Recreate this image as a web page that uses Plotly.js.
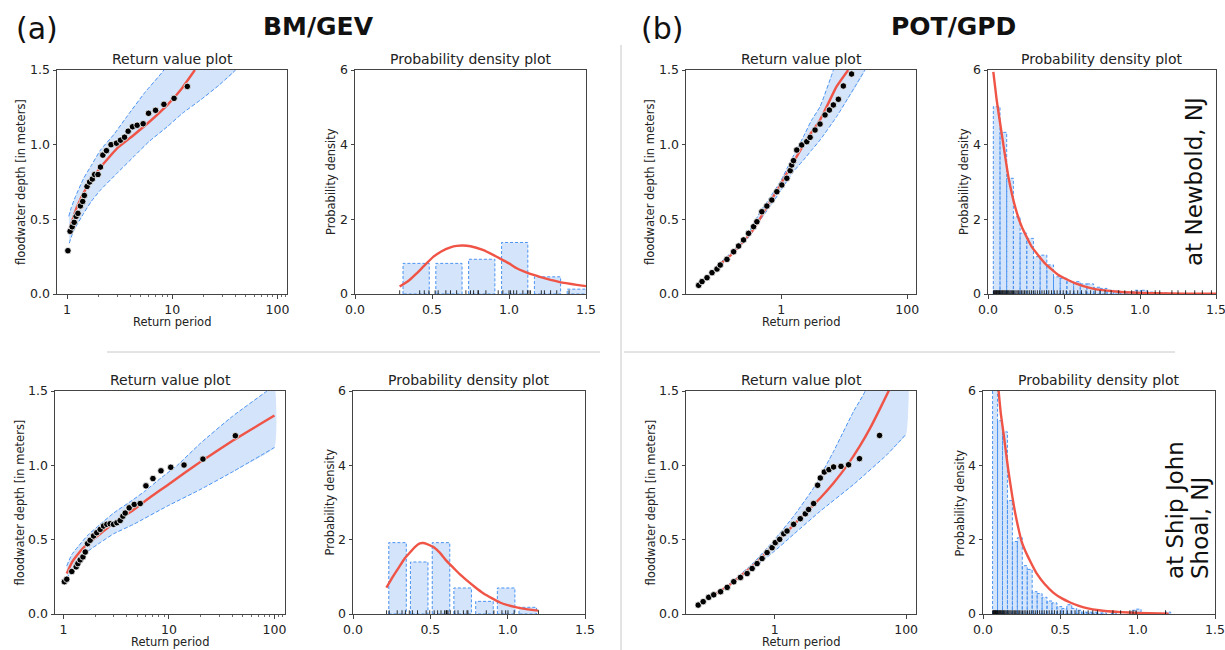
<!DOCTYPE html>
<html><head><meta charset="utf-8">
<script src="https://cdn.plot.ly/plotly-3.0.1.min.js"></script>
<style>html,body{margin:0;padding:0;background:#fff}#chart{width:1225px;height:650px}</style>
</head><body><div id="chart"></div>
<script>
// ---------- (a) BM/GEV at Newbold ----------
const nbGevPeriod = [1.02,1.07,1.12,1.17,1.22,1.27,1.34,1.41,1.46,1.55,1.64,1.74,1.83,1.97,2.08,2.19,2.37,2.62,2.95,3.22,3.52,3.81,4.19,4.64,5.29,5.95,6.94,8.33,10.4,13.9];
const nbGevDepth  = [0.29,0.42,0.45,0.48,0.52,0.54,0.59,0.62,0.66,0.72,0.75,0.77,0.80,0.80,0.85,0.93,0.96,1.00,1.01,1.03,1.05,1.09,1.12,1.13,1.14,1.21,1.23,1.27,1.31,1.39];
const nbGevFitPeriod = [1.05,1.245,1.55,2.08,2.99,4.31,6.22,8.96,12.0,16.4];
const nbGevFitDepth  = [0.429,0.585,0.719,0.848,0.975,1.065,1.16,1.265,1.366,1.50];
const nbGevUpPeriod = [1.04,1.1,1.2,1.44,1.7,2.08,2.8,3.72,5.5,8.33,17,40];
const nbGevUpDepth  = [0.52,0.58,0.65,0.775,0.86,0.964,1.07,1.19,1.35,1.50,1.90,2.30];
const nbGevLoPeriod = [1.05,1.15,1.44,1.7,2.08,3.0,4.31,6.0,8.96,12.5,18.6,28,40];
const nbGevLoDepth  = [0.34,0.42,0.54,0.62,0.696,0.81,0.92,1.02,1.12,1.21,1.30,1.40,1.50];
const nbGevHistCenter  = [0.397,0.61,0.823,1.037,1.25,1.463];
const nbGevHistDensity = [0.82,0.82,0.93,1.38,0.46,0.13];
const nbGevBinWidth = 0.213;
const nbGevPdfX = [0.29,0.35,0.40,0.45,0.51,0.56,0.62,0.66,0.70,0.75,0.83,0.90,0.94,1.00,1.05,1.10,1.16,1.20,1.27,1.33,1.37,1.44,1.50];
const nbGevPdfY = [0.20,0.36,0.55,0.76,1.00,1.14,1.25,1.29,1.30,1.28,1.18,1.04,0.955,0.82,0.69,0.60,0.51,0.46,0.38,0.32,0.29,0.245,0.21];

// ---------- (b) POT/GPD at Newbold ----------
const nbGpdPeriod = [0.0491,0.0555,0.0666,0.0799,0.0959,0.108,0.138,0.176,0.211,0.253,0.304,0.365,0.412,0.494,0.593,0.711,0.854,1.025,1.23,1.39,1.47,1.57,1.77,2.12,2.55,2.88,3.45,4.14,4.97,5.82,6.74,8.09,9.7,13.1];
const nbGpdDepth  = [0.058,0.083,0.109,0.143,0.167,0.194,0.232,0.283,0.321,0.362,0.406,0.451,0.484,0.551,0.589,0.629,0.685,0.730,0.775,0.826,0.864,0.893,0.964,0.998,1.02,1.049,1.098,1.138,1.199,1.232,1.266,1.304,1.393,1.473];
const nbGpdFitPeriod = [0.096,0.15,0.2,0.3,0.365,0.5,0.7,1.0,1.5,2.26,3.0,4.14,5.5,7.6,11.6];
const nbGpdFitDepth  = [0.183,0.25,0.305,0.39,0.433,0.53,0.63,0.741,0.87,0.998,1.08,1.165,1.27,1.39,1.50];
const nbGpdUpPeriod = [0.096,0.2,0.3,0.466,0.7,1.0,1.5,2.26,3.0,4.14,6.74,10,20];
const nbGpdUpDepth  = [0.19,0.315,0.405,0.551,0.66,0.763,0.91,1.054,1.16,1.254,1.50,1.75,2.2];
const nbGpdLoPeriod = [0.096,0.2,0.3,0.466,0.7,1.0,1.5,2.26,3.0,4.14,7.6,21.4];
const nbGpdLoDepth  = [0.177,0.295,0.375,0.496,0.60,0.696,0.81,0.897,0.96,1.031,1.188,1.50];
const nbGpdBinStart = 0.035, nbGpdBinWidth = 0.044;
const nbGpdHistDensity = [5.02,4.33,3.10,2.07,1.63,1.49,1.00,1.04,0.78,0.46,0.42,0.33,0.33,0.27,0.27,0.18,0.15,0.10,0.08,0.05,0.05,0.10,0.10,0.05,0.03,0.03];
const nbGpdPdfX = [0.035,0.057,0.090,0.134,0.178,0.222,0.287,0.375,0.463,0.572,0.682,0.857,1.08,1.3,1.5];
const nbGpdPdfY = [5.95,5.2,4.30,3.14,2.34,1.80,1.27,0.82,0.51,0.29,0.15,0.06,0.02,0.01,0.005];
const nbGpdRug = [0.036,0.040,0.044,0.048,0.052,0.056,0.060,0.064,0.068,0.072,0.076,0.080,0.085,0.090,0.095,0.100,0.105,0.110,0.116,0.122,0.128,0.134,0.140,0.147,0.154,0.161,0.168,0.176,0.184,0.192,0.200,0.210,0.220,0.230,0.240,0.250,0.262,0.274,0.286,0.298,0.310,0.325,0.340,0.355,0.370,0.385,0.400,0.418,0.436,0.455,0.475,0.495,0.515,0.540,0.565,0.590,0.615,0.645,0.675,0.705,0.737,0.77,0.81,0.86,0.90,0.945,0.98,1.01,1.05,1.10,1.13,1.21,1.25,1.30,1.36,1.41,1.47];

// ---------- (a) BM/GEV at Ship John Shoal ----------
const sjGevPeriod = [1.02,1.075,1.20,1.32,1.37,1.44,1.53,1.61,1.69,1.79,1.93,2.07,2.23,2.40,2.58,2.77,2.98,3.21,3.45,3.66,3.85,4.20,4.69,5.34,6.05,7.05,8.40,10.4,13.9,21.0,42.6];
const sjGevDepth  = [0.217,0.234,0.286,0.317,0.339,0.364,0.384,0.417,0.473,0.496,0.525,0.547,0.569,0.592,0.603,0.607,0.603,0.614,0.629,0.658,0.679,0.714,0.737,0.743,0.862,0.911,0.963,0.987,1.002,1.042,1.199];
const sjGevFitPeriod = [1.075,1.2,1.34,1.61,2.23,3.21,4.6,6.64,9.6,13.8,21.0,41.1,100];
const sjGevFitDepth  = [0.272,0.346,0.393,0.458,0.540,0.625,0.70,0.785,0.865,0.945,1.035,1.17,1.335];
const sjGevUpPeriod = [1.075,1.2,1.4,1.7,2.2,3.0,4.6,6.0,8.4,12,20,40,85,100];
const sjGevUpDepth  = [0.324,0.40,0.46,0.53,0.60,0.68,0.77,0.83,0.915,1.0,1.15,1.33,1.50,1.54];
const sjGevLoPeriod = [1.075,1.2,1.55,2.23,3.0,4.62,9.6,19.8,41,100];
const sjGevLoDepth  = [0.234,0.30,0.40,0.48,0.54,0.603,0.725,0.837,0.96,1.12];
const sjGevHistCenter  = [0.288,0.428,0.569,0.709,0.850,0.990,1.130];
const sjGevHistDensity = [1.92,1.40,1.92,0.70,0.34,0.70,0.18];
const sjGevBinWidth = 0.140;
const sjGevPdfX = [0.216,0.26,0.302,0.335,0.367,0.40,0.432,0.455,0.475,0.52,0.561,0.60,0.648,0.69,0.734,0.79,0.842,0.90,0.95,1.0,1.058,1.12,1.198];
const sjGevPdfY = [0.71,1.02,1.29,1.50,1.65,1.80,1.90,1.91,1.89,1.80,1.65,1.45,1.25,1.07,0.91,0.72,0.56,0.42,0.31,0.24,0.18,0.13,0.09];

// ---------- (b) POT/GPD at Ship John Shoal ----------
const sjGpdPeriod = [0.0685,0.0815,0.099,0.118,0.150,0.189,0.238,0.301,0.380,0.453,0.539,0.642,0.765,0.911,1.02,1.19,1.37,1.54,1.94,2.45,2.92,3.28,3.91,4.50,4.94,5.68,6.69,7.87,10.2,13.3,19.5,39.4];
const sjGpdDepth  = [0.060,0.083,0.112,0.129,0.150,0.179,0.217,0.246,0.272,0.306,0.339,0.373,0.413,0.446,0.480,0.502,0.540,0.558,0.603,0.641,0.674,0.703,0.743,0.866,0.915,0.955,0.971,0.989,0.993,1.004,1.045,1.201];
const sjGpdFitPeriod = [0.099,0.212,0.48,1.0,1.94,3.28,4.94,7.87,13.3,19.9,28.3,40.4,57];
const sjGpdFitDepth  = [0.107,0.20,0.33,0.469,0.60,0.70,0.78,0.881,1.013,1.132,1.25,1.385,1.52];
const sjGpdUpPeriod = [0.1,0.2,0.48,1.0,1.94,3.91,7.87,15.8,23.8,50,100];
const sjGpdUpDepth  = [0.112,0.20,0.346,0.502,0.658,0.848,1.094,1.362,1.50,2.1,2.6];
const sjGpdLoPeriod = [0.1,0.2,0.48,1.0,1.94,4.94,15.8,50.9,100];
const sjGpdLoDepth  = [0.102,0.19,0.3125,0.424,0.536,0.692,0.871,1.071,1.21];
const sjGpdBinStart = 0.062, sjGpdBinWidth = 0.032;
const sjGpdHistDensity = [7.0,5.2,4.9,3.05,1.95,2.05,1.3,1.2,0.6,0.55,0.45,0.35,0.3,0.2,0.15,0.25,0.15,0.1,0.05,0.05,0.05,0.03,0.03,0,0.03,0,0,0,0.1,0.13,0,0,0,0,0,0.05];
const sjGpdPdfX = [0.095,0.101,0.115,0.133,0.15,0.166,0.19,0.209,0.25,0.284,0.32,0.349,0.40,0.456,0.51,0.564,0.62,0.671,0.75,0.887,1.0,1.145,1.2];
const sjGpdPdfY = [6.5,6.0,5.4,4.85,4.3,3.8,3.15,2.7,1.95,1.6,1.3,1.08,0.80,0.57,0.42,0.31,0.22,0.16,0.10,0.05,0.03,0.012,0.01];
const sjGpdRug = [0.063,0.066,0.069,0.072,0.075,0.078,0.081,0.084,0.087,0.090,0.094,0.098,0.102,0.106,0.110,0.114,0.118,0.123,0.128,0.133,0.138,0.143,0.149,0.155,0.161,0.167,0.174,0.181,0.188,0.195,0.203,0.211,0.219,0.228,0.237,0.246,0.256,0.266,0.277,0.288,0.300,0.312,0.325,0.338,0.352,0.366,0.381,0.396,0.412,0.428,0.445,0.462,0.48,0.50,0.52,0.545,0.57,0.595,0.62,0.65,0.68,0.71,0.74,0.84,0.89,0.95,0.97,0.99,1.18];

// ---------- text ----------
const rvTitle = "Return value plot", pdTitle = "Probability density plot";
const xRvLabel = "Return period", yRvLabel = "floodwater depth [in meters]", yPdLabel = "Probability density";
const logTickVals = [1,10,100], logTickText = ["1","10","100"];
const wideTickVals = [1,100], wideTickText = ["1","100"];

// ---------- styles ----------
const W = 1225, H = 650;
const FONT = "DejaVu Sans, Liberation Sans, sans-serif";
const RED = "#ef5446", BLUE = "#4b93f2", FILL = "#d3e4fb", AX = "#444";
const px = x => x / W, py = y => 1 - y / H;
const boxes = [[57,287,70,294],[355,586,70,294],[686,916,70,294],[988,1216,70,294],
               [55,285,391,614],[353,585,391,614],[686,916,391,614],[983,1215,391,614]];

const traces = [];
function ax(i){ return i === 0 ? ["x","y"] : ["x"+(i+1),"y"+(i+1)]; }

function band(i, upX, upY, loX, loY){
  const [xa,ya] = ax(i);
  traces.push({x: upX.concat(loX.slice().reverse()), y: upY.concat(loY.slice().reverse()),
    xaxis:xa, yaxis:ya, mode:"lines", fill:"toself", fillcolor:FILL, line:{width:0, shape:"spline", smoothing:0.4}, hoverinfo:"skip"});
  [[upX,upY],[loX,loY]].forEach(([bx,by]) => traces.push({x:bx, y:by, xaxis:xa, yaxis:ya, mode:"lines",
    line:{color:BLUE, width:1, dash:"4px,2px", shape:"spline", smoothing:0.4}, hoverinfo:"skip"}));
}
function fit(i, fx, fy){
  const [xa,ya] = ax(i);
  traces.push({x:fx, y:fy, xaxis:xa, yaxis:ya, mode:"lines", line:{color:RED, width:2.4, shape:"spline", smoothing:0.4}});
}
function pts(i, dx, dy){
  const [xa,ya] = ax(i);
  traces.push({x:dx, y:dy, xaxis:xa, yaxis:ya, mode:"markers",
    marker:{color:"#000", size:6.5, line:{color:"#fff", width:0.8}}});
}
function bars(i, centers, heights, width){
  const [xa,ya] = ax(i);
  const bx = [], by = [];
  centers.forEach((c,k) => { if (heights[k] <= 0) return;
    const l = c - width/2, r = c + width/2;
    bx.push(l,l,r,r,l,null); by.push(0,heights[k],heights[k],0,0,null); });
  traces.push({x:bx, y:by, xaxis:xa, yaxis:ya, mode:"lines", fill:"toself", fillcolor:FILL,
    line:{color:BLUE, width:1, dash:"3px,2px"}, hoverinfo:"skip"});
}
function rug(i, vals){
  const [xa,ya] = ax(i);
  const rx = [], ry = [];
  vals.forEach(v => { rx.push(v,v,null); ry.push(0,0.1,null); });
  traces.push({x:rx, y:ry, xaxis:xa, yaxis:ya, mode:"lines", line:{color:"#000", width:0.8}, hoverinfo:"skip"});
}
const centersFrom = (start, w, n) => Array.from({length:n}, (_,k) => start + (k+0.5)*w);

band(0, nbGevUpPeriod, nbGevUpDepth, nbGevLoPeriod, nbGevLoDepth);
fit(0, nbGevFitPeriod, nbGevFitDepth); pts(0, nbGevPeriod, nbGevDepth);
bars(1, nbGevHistCenter, nbGevHistDensity, nbGevBinWidth*0.8);
fit(1, nbGevPdfX, nbGevPdfY); rug(1, nbGevDepth);
band(2, nbGpdUpPeriod, nbGpdUpDepth, nbGpdLoPeriod, nbGpdLoDepth);
fit(2, nbGpdFitPeriod, nbGpdFitDepth); pts(2, nbGpdPeriod, nbGpdDepth);
bars(3, centersFrom(nbGpdBinStart, nbGpdBinWidth, nbGpdHistDensity.length), nbGpdHistDensity, nbGpdBinWidth);
fit(3, nbGpdPdfX, nbGpdPdfY); rug(3, nbGpdRug);
band(4, sjGevUpPeriod, sjGevUpDepth, sjGevLoPeriod, sjGevLoDepth);
fit(4, sjGevFitPeriod, sjGevFitDepth); pts(4, sjGevPeriod, sjGevDepth);
bars(5, sjGevHistCenter, sjGevHistDensity, sjGevBinWidth*0.81);
fit(5, sjGevPdfX, sjGevPdfY); rug(5, sjGevDepth);
band(6, sjGpdUpPeriod, sjGpdUpDepth, sjGpdLoPeriod, sjGpdLoDepth);
fit(6, sjGpdFitPeriod, sjGpdFitDepth); pts(6, sjGpdPeriod, sjGpdDepth);
bars(7, centersFrom(sjGpdBinStart, sjGpdBinWidth, sjGpdHistDensity.length), sjGpdHistDensity, sjGpdBinWidth);
fit(7, sjGpdPdfX, sjGpdPdfY); rug(7, sjGpdRug);

const layout = {width:W, height:H, margin:{l:0,r:0,t:0,b:0}, showlegend:false,
  paper_bgcolor:"#fff", plot_bgcolor:"#fff", font:{family:FONT, color:"#222"},
  annotations:[], shapes:[]};

const base = {showline:true, mirror:true, linecolor:AX, linewidth:1, ticks:"outside", ticklen:3.5,
  tickcolor:AX, tickwidth:1, showgrid:false, zeroline:false, fixedrange:true, ticklabeloverflow:"allow",
  tickfont:{family:FONT, size:12.5, color:"#222"}};
const minorLog = {ticks:"outside", ticklen:2, tickcolor:AX, tickwidth:0.8, showgrid:false,
  tickvals:[2,3,4,5,6,7,8,9,20,30,40,50,60,70,80,90,110,120]};

const xRanges = [[-0.095,2.09],[0,1.5],[-1.51,2.14],[0,1.5],[-0.08,2.10],[0,1.5],[-1.35,2.15],[0,1.5]];
boxes.forEach((b,i) => {
  const n = i === 0 ? "" : String(i+1);
  const isRv = i % 2 === 0;
  const isWide = (i === 2 || i === 6);
  const xa = Object.assign({}, base, {domain:[px(b[0]), px(b[1])], anchor:"y"+n, range:xRanges[i]});
  if (isRv) {
    Object.assign(xa, {type:"log", tickmode:"array",
      tickvals: isWide ? wideTickVals : logTickVals, ticktext: isWide ? wideTickText : logTickText});
    if (!isWide) xa.minor = minorLog;
  } else {
    Object.assign(xa, {tickmode:"array", tickvals:[0,0.5,1.0,1.5], ticktext:["0.0","0.5","1.0","1.5"]});
  }
  const ya = Object.assign({}, base, {domain:[py(b[3]), py(b[2])], anchor:"x"+n,
    range: isRv ? [0,1.5] : [0,6], tickmode:"array",
    tickvals: isRv ? [0,0.5,1.0,1.5] : [0,2,4,6], ticktext: isRv ? ["0.0","0.5","1.0","1.5"] : ["0","2","4","6"]});
  layout["xaxis"+n] = xa; layout["yaxis"+n] = ya;
  const cx = (b[0]+b[1])/2;
  layout.annotations.push({xref:"paper", yref:"paper", x:px(cx), y:py(b[2]-11), text: isRv ? rvTitle : pdTitle,
    showarrow:false, font:{size:14, color:"#222"}, xanchor:"center", yanchor:"middle"});
  if (isRv) layout.annotations.push({xref:"paper", yref:"paper", x:px(cx), y:py(Math.min(b[3]+28, 642.5)), text:xRvLabel,
    showarrow:false, font:{size:11.5, color:"#222"}, xanchor:"center", yanchor:"middle"});
  const ylx = isRv ? b[0]-36 : b[0]-24;
  layout.annotations.push({xref:"paper", yref:"paper", x:px(ylx), y:py((b[2]+b[3])/2), text: isRv ? yRvLabel : yPdLabel,
    textangle:-90, showarrow:false, font:{size:11.5, color:"#222"}, xanchor:"center", yanchor:"middle"});
});

[["(a)",37,false],["BM/GEV",318,true],["(b)",662,false],["POT/GPD",953,true]].forEach(([t,x,bold]) =>
  layout.annotations.push({xref:"paper", yref:"paper", x:px(x), y:py(bold?27:28), text: bold ? "<b>"+t+"</b>" : t,
    showarrow:false, font:{size: bold?25:30, color:"#111"}, xanchor:"center", yanchor:"middle"}));
[["at Newbold, NJ",1194,182],["at Ship John",1175,510],["Shoal, NJ",1200,528]].forEach(([t,x,y]) =>
  layout.annotations.push({xref:"paper", yref:"paper", x:px(x), y:py(y), text:t, textangle:-90,
    showarrow:false, font:{size:23, color:"#111"}, xanchor:"center", yanchor:"middle"}));

layout.shapes.push({type:"line", xref:"paper", yref:"paper", x0:px(621), x1:px(621), y0:py(45), y1:0, line:{color:"#c8c8c8", width:1}});
layout.shapes.push({type:"line", xref:"paper", yref:"paper", x0:px(107), x1:px(600), y0:py(352), y1:py(352), line:{color:"#c8c8c8", width:1}});
layout.shapes.push({type:"line", xref:"paper", yref:"paper", x0:px(624), x1:px(1175), y0:py(352), y1:py(352), line:{color:"#c8c8c8", width:1}});

Plotly.newPlot("chart", traces, layout, {staticPlot:true, displayModeBar:false});
</script></body></html>
